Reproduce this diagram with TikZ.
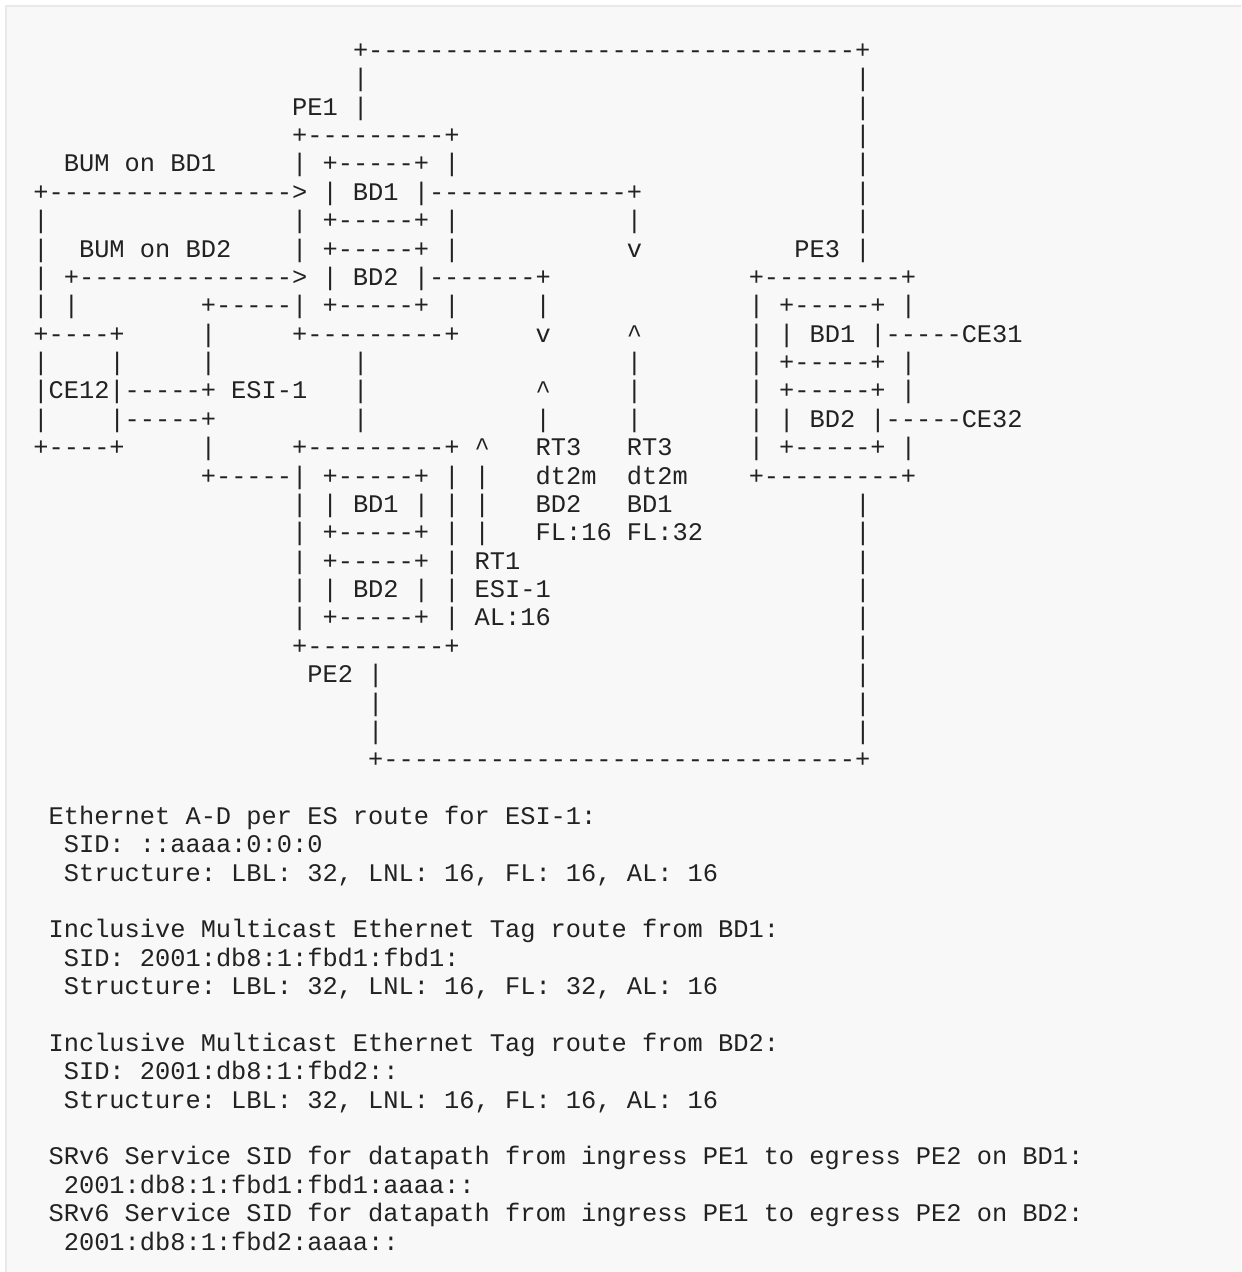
\documentclass[tikz,border=0pt]{standalone}
\usepackage{fontspec}
\setmonofont{Liberation Mono}
\definecolor{paper}{HTML}{F8F8F8}
\definecolor{edge}{HTML}{E9E9E9}
\definecolor{ink}{HTML}{222222}
\tikzset{
  asc/.style={anchor=base west, inner sep=0pt, outer sep=0pt, text=ink,
    font={\ttfamily\fontsize{12.68pt}{14pt}\selectfont}}
}
\begin{document}
\begin{tikzpicture}[x=0.5pt, y=-0.5pt]
 \useasboundingbox (0,0) rectangle (1241,1272);
 \clip (0,0) rectangle (1241,1272);
 \draw[edge, line width=1pt, fill=paper] (6,6) rectangle (1260,1290);
 % one grid cell = one character
 \begin{scope}[shift={(33.4,58.5)}, x=7.61pt, y=-14.185pt]
 % PE1 and the loop to PE3
 \node[asc] (r0a) at (21,0) {+--------------------------------+};
 \node[asc] (r1a) at (21,1) {|};
 \node[asc] (r1b) at (54,1) {|};
 \node[asc] (pe1) at (17,2) {PE1 |};
 \node[asc] (r2b) at (54,2) {|};
 \node[asc] (r3a) at (17,3) {+---------+};
 \node[asc] (r3b) at (54,3) {|};
 \node[asc] (bum1) at (2,4) {BUM on BD1};
 \node[asc] (r4b) at (17,4) {| +-----+ |};
 \node[asc] (r4c) at (54,4) {|};
 \node[asc] (r5a) at (0,5) {+---------------->~| BD1 |-------------+};
 \node[asc] (r5b) at (54,5) {|};
 \node[asc] (r6a) at (0,6) {|};
 \node[asc] (r6b) at (17,6) {| +-----+ |};
 \node[asc] (r6c) at (39,6) {|};
 \node[asc] (r6d) at (54,6) {|};
 \node[asc] (r7a) at (0,7) {|};
 \node[asc] (bum2) at (3,7) {BUM on BD2};
 \node[asc] (r7c) at (17,7) {| +-----+ |};
 \node[asc] (r7d) at (39,7) {v};
 \node[asc] (pe3) at (50,7) {PE3 |};
 \node[asc] (r8a) at (0,8) {| +-------------->~| BD2 |-------+};
 \node[asc] (r8b) at (47,8) {+---------+};
 \node[asc] (r9a) at (0,9) {| |};
 \node[asc] (r9b) at (11,9) {+-----| +-----+ |};
 \node[asc] (r9c) at (33,9) {|};
 \node[asc] (r9d) at (47,9) {| +-----+ |};
 % CE12 and ESI-1
 \node[asc] (r10a) at (0,10) {+----+};
 \node[asc] (r10b) at (11,10) {|};
 \node[asc] (r10c) at (17,10) {+---------+};
 \node[asc] (r10d) at (33,10) {v};
 \node[asc] (r10e) at (39,10) {\textasciicircum};
 \node[asc] (ce31) at (47,10) {| | BD1 |-----CE31};
 \node[asc] (r11a) at (0,11) {|};
 \node[asc] (r11b) at (5,11) {|};
 \node[asc] (r11c) at (11,11) {|};
 \node[asc] (r11d) at (21,11) {|};
 \node[asc] (r11e) at (39,11) {|};
 \node[asc] (r11f) at (47,11) {| +-----+ |};
 \node[asc] (ce12) at (0,12) {|CE12|-----+ ESI-1};
 \node[asc] (r12b) at (21,12) {|};
 \node[asc] (r12c) at (33,12) {\textasciicircum};
 \node[asc] (r12d) at (39,12) {|};
 \node[asc] (r12e) at (47,12) {| +-----+ |};
 \node[asc] (r13a) at (0,13) {|};
 \node[asc] (r13b) at (5,13) {|-----+};
 \node[asc] (r13c) at (21,13) {|};
 \node[asc] (r13d) at (33,13) {|};
 \node[asc] (r13e) at (39,13) {|};
 \node[asc] (ce32) at (47,13) {| | BD2 |-----CE32};
 \node[asc] (r14a) at (0,14) {+----+};
 \node[asc] (r14b) at (11,14) {|};
 \node[asc] (r14c) at (17,14) {+---------+ \textasciicircum};
 \node[asc] (rt3a) at (33,14) {RT3};
 \node[asc] (rt3b) at (39,14) {RT3};
 \node[asc] (r14f) at (47,14) {| +-----+ |};
 % PE2
 \node[asc] (r15a) at (11,15) {+-----| +-----+ | |};
 \node[asc] (r15b) at (33,15) {dt2m};
 \node[asc] (r15c) at (39,15) {dt2m};
 \node[asc] (r15d) at (47,15) {+---------+};
 \node[asc] (r16a) at (17,16) {| | BD1 | | |};
 \node[asc] (r16b) at (33,16) {BD2};
 \node[asc] (r16c) at (39,16) {BD1};
 \node[asc] (r16d) at (54,16) {|};
 \node[asc] (r17a) at (17,17) {| +-----+ | |};
 \node[asc] (r17b) at (33,17) {FL:16 FL:32};
 \node[asc] (r17c) at (54,17) {|};
 \node[asc] (rt1) at (17,18) {| +-----+ | RT1};
 \node[asc] (r18b) at (54,18) {|};
 \node[asc] (r19a) at (17,19) {| | BD2 | | ESI-1};
 \node[asc] (r19b) at (54,19) {|};
 \node[asc] (r20a) at (17,20) {| +-----+ | AL:16};
 \node[asc] (r20b) at (54,20) {|};
 \node[asc] (r21a) at (17,21) {+---------+};
 \node[asc] (r21b) at (54,21) {|};
 \node[asc] (pe2) at (18,22) {PE2 |};
 \node[asc] (r22b) at (54,22) {|};
 \node[asc] (r23a) at (22,23) {|};
 \node[asc] (r23b) at (54,23) {|};
 \node[asc] (r24a) at (22,24) {|};
 \node[asc] (r24b) at (54,24) {|};
 \node[asc] (r25a) at (22,25) {+-------------------------------+};
 % the SIDs below the figure
 \node[asc] (t27) at (1,27) {Ethernet A-D per ES route for ESI-1:};
 \node[asc] (t28) at (2,28) {SID: ::aaaa:0:0:0};
 \node[asc] (t29) at (2,29) {Structure: LBL: 32, LNL: 16, FL: 16, AL: 16};
 \node[asc] (t31) at (1,31) {Inclusive Multicast Ethernet Tag route from BD1:};
 \node[asc] (t32) at (2,32) {SID: 2001:db8:1:fbd1:fbd1:};
 \node[asc] (t33) at (2,33) {Structure: LBL: 32, LNL: 16, FL: 32, AL: 16};
 \node[asc] (t35) at (1,35) {Inclusive Multicast Ethernet Tag route from BD2:};
 \node[asc] (t36) at (2,36) {SID: 2001:db8:1:fbd2::};
 \node[asc] (t37) at (2,37) {Structure: LBL: 32, LNL: 16, FL: 16, AL: 16};
 \node[asc] (t39) at (1,39) {SRv6 Service SID for datapath from ingress PE1 to egress PE2 on BD1:};
 \node[asc] (t40) at (2,40) {2001:db8:1:fbd1:fbd1:aaaa::};
 \node[asc] (t41) at (1,41) {SRv6 Service SID for datapath from ingress PE1 to egress PE2 on BD2:};
 \node[asc] (t42) at (2,42) {2001:db8:1:fbd2:aaaa::};
 \end{scope}
\end{tikzpicture}
\end{document}
